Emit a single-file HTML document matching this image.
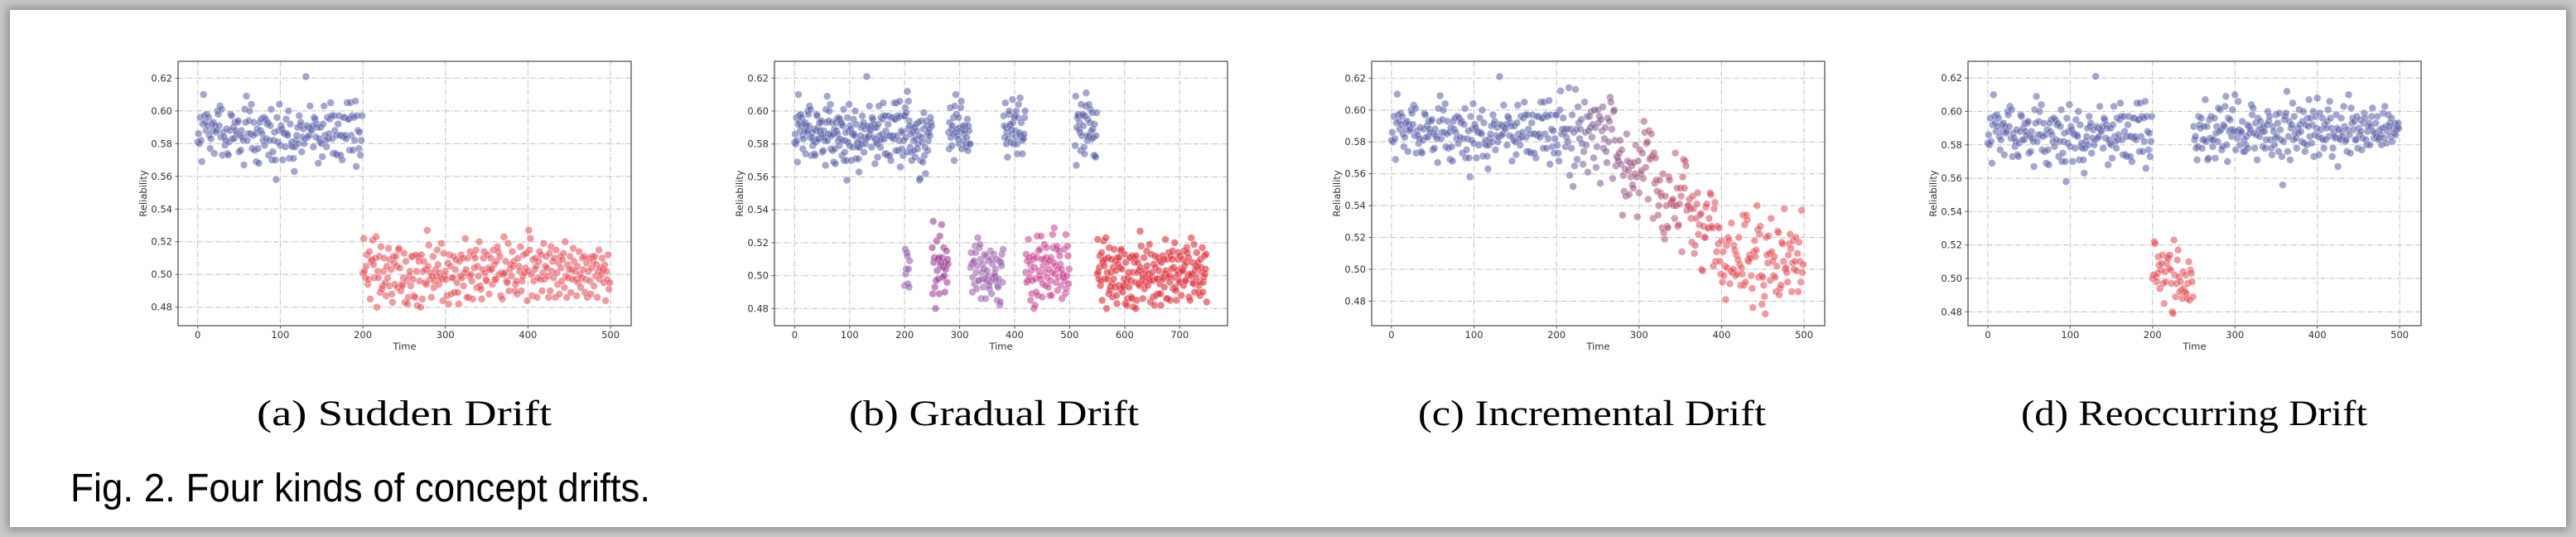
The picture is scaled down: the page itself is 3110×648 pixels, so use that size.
<!DOCTYPE html>
<html><head><meta charset="utf-8">
<style>
html,body{margin:0;padding:0;width:3110px;height:648px;overflow:hidden;background:#c9c9c9;}
#frame{position:absolute;left:12px;top:12px;width:3086px;height:624px;background:#fff;box-shadow:0 0 10px 3px #8a8a8a;}
svg{position:absolute;left:0;top:0;}
</style></head>
<body>
<div id="frame"></div>
<svg id="fig" width="3110" height="648" viewBox="0 0 3110 648">
  <g id="charts"></g>
  <text x="488" y="513" text-anchor="middle" font-family="Liberation Serif, serif" font-size="43" textLength="356" lengthAdjust="spacingAndGlyphs" fill="#000">(a) Sudden Drift</text>
  <text x="1200" y="513" text-anchor="middle" font-family="Liberation Serif, serif" font-size="43" textLength="350" lengthAdjust="spacingAndGlyphs" fill="#000">(b) Gradual Drift</text>
  <text x="1922" y="513" text-anchor="middle" font-family="Liberation Serif, serif" font-size="43" textLength="420" lengthAdjust="spacingAndGlyphs" fill="#000">(c) Incremental Drift</text>
  <text x="2649" y="513" text-anchor="middle" font-family="Liberation Serif, serif" font-size="43" textLength="418" lengthAdjust="spacingAndGlyphs" fill="#000">(d) Reoccurring Drift</text>
  <text x="85" y="605" font-family="Liberation Sans, sans-serif" font-size="48" textLength="700" lengthAdjust="spacingAndGlyphs" fill="#000">Fig. 2. Four kinds of concept drifts.</text>
</svg>
<script>
// ---- data ----
const blueBase = [.581,.586,.580,.596,.582,.569,.592,.610,.597,.593,.588,.598,.591,.596,.585,.577,.583,.592,.588,.593,.574,.591,.587,.588,.600,.598,.591,.603,.584,.601,.573,.587,.584,.579,.582,.589,.574,.573,.581,.588,.598,.597,.583,.590,.583,.593,.588,.586,.593,.594,.575,.585,.576,.588,.584,.582,.567,.601,.593,.609,.582,.586,.594,.600,.586,.604,.577,.585,.593,.576,.586,.569,.589,.577,.568,.593,.588,.595,.586,.582,.596,.579,.595,.583,.592,.593,.573,.582,.591,.601,.570,.575,.582,.587,.570,.558,.596,.581,.588,.604,.579,.591,.589,.570,.587,.586,.578,.595,.586,.585,.600,.571,.592,.579,.581,.578,.571,.563,.578,.582,.585,.590,.580,.597,.591,.593,.575,.584,.589,.580,.583,.621,.591,.584,.590,.585,.603,.589,.588,.591,.578,.596,.595,.584,.592,.590,.568,.583,.581,.590,.580,.572,.592,.603,.585,.582,.578,.596,.583,.586,.595,.605,.597,.583,.574,.597,.588,.574,.585,.573,.592,.597,.585,.573,.585,.570,.596,.584,.596,.585,.583,.605,.595,.595,.576,.605,.585,.597,.576,.596,.582,.606,.566,.597,.588,.577,.587,.573,.582,.597];
const redA = [.501,.522,.502,.498,.505,.512,.494,.497,.514,.485,.508,.509,.521,.506,.498,.510,.523,.480,.502,.498,.511,.489,.517,.491,.493,.502,.510,.495,.487,.505,.498,.516,.493,.509,.503,.488,.483,.511,.507,.494,.511,.505,.492,.515,.516,.504,.490,.494,.493,.498,.513,.483,.508,.496,.482,.486,.499,.502,.493,.511,.511,.497,.487,.486,.512,.502,.481,.511,.508,.496,.480,.512,.485,.502,.508,.495,.503,.494,.527,.505,.518,.497,.501,.486,.499,.511,.492,.496,.503,.499,.515,.506,.494,.501,.498,.519,.497,.484,.513,.499,.502,.497,.487,.507,.482,.512,.505,.488,.498,.498,.511,.489,.503,.509,.495,.489,.482,.508,.499,.512,.498,.510,.493,.501,.522,.503,.486,.510,.486,.499,.514,.500,.496,.485,.512,.504,.510,.515,.492,.505,.499,.520,.493,.491,.485,.503,.510,.514,.501,.497,.496,.512,.504,.488,.503,.510,.503,.494,.515,.506,.497,.497,.508,.517,.514,.500,.511,.487,.501,.485,.500,.523,.501,.508,.496,.495,.519,.490,.503,.506,.499,.514,.505,.508,.490,.494,.496,.488,.510,.505,.502,.517,.490,.496,.499,.512,.501,.504,.513,.484,.502,.527,.515,.522,.500,.487,.509,.496,.503,.510,.505,.486,.498,.508,.514,.497,.512,.490,.501,.519,.497,.505,.511,.504,.499,.486,.513,.490,.517,.502,.508,.498,.510,.486,.515,.501,.494,.507,.488,.511,.504,.496,.509,.513,.492,.520,.499,.486,.506,.498,.503,.511,.489,.503,.497,.516,.508,.502,.497,.487,.505,.495,.514,.500,.492,.498,.510,.503,.511,.489,.497,.507,.486,.502,.510,.496,.488,.504,.511,.508,.493,.511,.499,.506,.486,.502,.515,.497,.504,.500,.510,.503,.495,.506,.484,.502,.497,.512,.491,.495];
const incC = [.597,.578,.573,.568,.600,.612,.585,.588,.595,.586,.588,.577,.583,.588,.580,.614,.559,.588,.576,.597,.552,.586,.565,.613,.588,.569,.602,.592,.582,.588,.594,.579,.566,.574,.605,.586,.578,.596,.561,.587,.596,.589,.599,.583,.591,.570,.600,.589,.564,.577,.600,.592,.596,.554,.594,.587,.602,.576,.582,.589,.574,.567,.595,.580,.593,.608,.605,.588,.557,.599,.600,.581,.565,.571,.570,.568,.573,.581,.566,.575,.534,.559,.549,.563,.546,.585,.568,.562,.547,.567,.558,.565,.553,.551,.567,.560,.578,.558,.533,.568,.548,.575,.560,.562,.573,.557,.593,.586,.564,.579,.580,.544,.587,.569,.570,.585,.571,.532,.573,.554,.570,.556,.549,.534,.540,.556,.548,.546,.526,.560,.523,.519,.546,.540,.527,.526,.558,.556,.541,.542,.543,.544,.540,.532,.573,.540,.551,.527,.528,.541,.551,.546,.511,.558,.569,.551,.568,.565,.537,.540,.540,.544,.538,.532,.517,.546,.538,.510,.515,.532,.541,.548,.522,.528,.534,.535,.500,.499,.527,.520,.520,.539,.541,.526,.526,.532,.548,.547,.527,.526,.502,.538,.542,.505,.511,.527,.516,.526,.505,.497,.518,.492,.511,.496,.502,.481,.515,.501,.520,.518,.491,.499,.529,.498,.500,.515,.512,.496,.509,.497,.506,.520,.503,.490,.501,.497,.534,.490,.528,.492,.534,.531,.506,.505,.509,.507,.496,.488,.476,.511,.518,.508,.512,.540,.525,.495,.522,.527,.496,.478,.495,.490,.483,.472,.520,.509,.504,.521,.510,.493,.532,.511,.505,.496,.508,.495,.486,.502,.524,.523,.484,.488,.490,.517,.516,.505,.538,.500,.501,.498,.492,.509,.516,.522,.513,.486,.504,.518,.500,.505,.520,.499,.510,.486,.517,.505,.492,.537,.498,.503];
const redD = [.500,.502,.522,.521,.501,.498,.503,.513,.508,.494,.505,.509,.514,.497,.485,.504,.498,.509,.513,.512,.506,.514,.505,.497,.480,.479,.523,.502,.489,.497,.511,.517,.501,.492,.498,.493,.488,.504,.494,.492,.502,.491,.488,.497,.510,.487,.505,.503,.498,.489];
const blueD = [.591,.583,.585,.578,.571,.579,.597,.592,.590,.596,.578,.583,.591,.583,.607,.582,.591,.571,.572,.595,.584,.597,.583,.579,.583,.596,.572,.587,.591,.582,.602,.588,.601,.589,.577,.579,.592,.591,.603,.609,.580,.570,.596,.588,.595,.589,.585,.601,.589,.588,.610,.577,.588,.584,.606,.589,.580,.587,.588,.594,.576,.583,.576,.580,.585,.592,.578,.591,.587,.589,.604,.598,.602,.587,.578,.593,.586,.571,.596,.589,.585,.594,.590,.588,.579,.591,.588,.578,.583,.592,.600,.594,.597,.583,.578,.574,.591,.588,.580,.584,.598,.585,.593,.576,.599,.589,.583,.573,.556,.582,.595,.597,.599,.612,.576,.585,.594,.571,.590,.592,.605,.583,.597,.587,.584,.578,.590,.587,.601,.592,.588,.582,.594,.600,.581,.576,.592,.580,.596,.591,.607,.585,.596,.581,.592,.600,.573,.586,.597,.590,.608,.585,.574,.599,.589,.584,.596,.583,.578,.592,.583,.590,.594,.601,.585,.606,.596,.590,.573,.578,.587,.585,.584,.598,.590,.567,.589,.584,.583,.596,.588,.585,.603,.591,.582,.583,.576,.589,.610,.586,.575,.602,.593,.596,.589,.594,.583,.583,.597,.578,.590,.586,.595,.588,.577,.584,.593,.599,.596,.583,.580,.588,.591,.593,.580,.591,.597,.602,.588,.584,.587,.593,.585,.597,.583,.584,.589,.586,.580,.590,.599,.584,.603,.591,.581,.588,.598,.591,.593,.585,.596,.582,.590,.587,.593,.586,.589,.591,.593,.590];
const purpleB1 = [.494,.516,.501,.504,.514,.512,.495,.504,.493,.509];
const blueB1 = [.597,.602,.584,.599,.575,.612,.589,.606,.594,.591,.578,.586,.575,.570,.590,.587,.582,.576,.590,.572,.583,.592,.588,.577,.580,.593,.585,.558,.559,.570,.594,.584,.581,.569,.589,.599,.573,.578,.562,.594,.591,.586,.576,.582,.587,.589,.585,.596,.593,.591];
const magB = [.517,.489,.533,.508,.511,.493,.480,.497,.521,.503,.510,.498,.511,.489,.524,.506,.508,.531,.511,.499,.505,.517,.500,.490,.508,.504,.515,.496,.510,.507];
const blueB2 = [.587,.577,.593,.602,.584,.589,.579,.591,.586,.596,.570,.603,.587,.610,.598,.589,.585,.583,.596,.580,.590,.588,.602,.606,.577,.589,.591,.582,.586,.588,.591,.578,.580,.584,.595,.576,.591,.588,.580,.580];
const lavB = [.505,.514,.507,.490,.499,.508,.509,.495,.518,.514,.502,.492,.506,.523,.497,.497,.517,.519,.510,.486,.502,.498,.507,.493,.504,.513,.498,.486,.512,.497,.503,.500,.509,.494,.492,.496,.515,.510,.489,.498,.507,.499,.513,.501,.500,.504,.497,.510,.485,.494,.493,.498,.509,.482,.484,.508,.506,.513,.496,.516];
const blueB3 = [.597,.591,.584,.605,.590,.580,.587,.572,.583,.598,.600,.591,.592,.581,.589,.586,.607,.593,.580,.596,.597,.588,.584,.600,.580,.574,.596,.604,.587,.586,.608,.585,.593,.582,.574,.584,.583,.586,.596,.600];
const pinkB = [.502,.513,.496,.509,.497,.522,.511,.499,.507,.485,.503,.489,.497,.512,.510,.480,.505,.482,.498,.490,.511,.524,.488,.515,.503,.500,.516,.498,.524,.510,.487,.495,.506,.510,.519,.502,.494,.511,.517,.499,.508,.493,.504,.509,.488,.497,.511,.488,.502,.525,.517,.508,.529,.501,.506,.496,.516,.518,.491,.504,.499,.515,.512,.507,.494,.504,.486,.500,.501,.499,.516,.497,.489,.525,.492,.500,.518,.512,.495,.504];
const blueB4 = [.579,.609,.567,.590,.596,.598,.597,.589,.593,.587,.576,.604,.585,.597,.598,.591,.578,.574,.597,.603,.611,.585,.582,.595,.584,.604,.585,.593,.601,.588,.583,.599,.589,.584,.573,.592,.573,.572,.585,.599];
const redB = redA.slice(0, 200);
const xTicksShort = [0,100,200,300,400,500];
const xTicksLong = [0,100,200,300,400,500,600,700];
const yTicks = [0.48,0.50,0.52,0.54,0.56,0.58,0.60,0.62];
const yTickLabels = ["0.48","0.50","0.52","0.54","0.56","0.58","0.60","0.62"];

// ---- drawing ----
const NS = "http://www.w3.org/2000/svg";
const BLUE = [88,95,165], RED = [228,72,82];
function rgba(c,a){return "rgba("+c[0]+","+c[1]+","+c[2]+","+a+")";}
function mix(t){return [0,1,2].map(i=>Math.round(BLUE[i]+(RED[i]-BLUE[i])*t));}
function mk(tag, attrs, parent){const e=document.createElementNS(NS,tag);for(const k in attrs)e.setAttribute(k,attrs[k]);parent.appendChild(e);return e;}

function drawChart(cfg){
  const root=document.getElementById("charts");
  const g=mk("g",{},root);
  
  
  const L=cfg.left,R=cfg.left+547,T=74,B=393;
  const xs=v=>L+(v-cfg.xmin)/(cfg.xmax-cfg.xmin)*(R-L);
  const ys=v=>B-(v-cfg.ymin)/(cfg.ymax-cfg.ymin)*(B-T);
  const grid=mk("g",{stroke:"#c4c4c4","stroke-width":"1.1","stroke-dasharray":"6 2 1.5 2"},g);
  
  
  cfg.xticks.forEach(t=>{const l=mk("line",{x1:xs(t),x2:xs(t),y1:T,y2:B},grid);
    
    });
  yTicks.forEach(t=>{const l=mk("line",{x1:L,x2:R,y1:ys(t),y2:ys(t)},grid);
    
    });
  const pts=mk("g",{},g);
  
  
  cfg.series.forEach(s=>{
    s.vals.forEach((v,i)=>{
      const xv=s.x0+i*(s.step||1);
      const col=s.colorFn?s.colorFn(xv):s.color;
      const c=mk("circle",{cx:xs(xv).toFixed(1),cy:ys(v).toFixed(1),r:4.4,fill:rgba(col,s.alpha||0.55),stroke:"rgba(255,255,255,0.5)","stroke-width":"0.6"},pts);
      
      
    });
  });
  const frame=mk("rect",{x:L,y:T,width:R-L,height:B-T,fill:"none",stroke:"#555","stroke-width":"1.3"},g);
  
  
  const lab=mk("g",{"font-family":"DejaVu Sans, sans-serif","font-size":"11.5",fill:"#333"},g);
  
  
  cfg.xticks.forEach(t=>{
    const tk=mk("line",{x1:xs(t),x2:xs(t),y1:B,y2:B+3.5,stroke:"#555","stroke-width":"1"},g);
    
    
    const tx=mk("text",{x:xs(t),y:408,"text-anchor":"middle"},lab);tx.textContent=String(t);
    
    
  });
  yTicks.forEach((t,i)=>{
    const tk=mk("line",{x1:L-3.5,x2:L,y1:ys(t),y2:ys(t),stroke:"#555","stroke-width":"1"},g);
    
    
    const tx=mk("text",{x:L-7,y:ys(t)+4,"text-anchor":"end"},lab);tx.textContent=yTickLabels[i];
    
    
  });
  const xt=mk("text",{x:(L+R)/2,y:422,"text-anchor":"middle"},lab);xt.textContent="Time";
  
  
  const yx=L-38, yy=(T+B)/2;
  const yt=mk("text",{x:yx,y:yy,"text-anchor":"middle",transform:"rotate(-90 "+yx+" "+yy+")"},lab);yt.textContent="Reliability";
  
  
}

const incColor = x => mix(Math.max(0,Math.min(1,(x-200)/200)));

drawChart({name:"chart-sudden-drift",left:215,xmin:-23.8,xmax:525,ymin:0.4687,ymax:0.6303,xticks:xTicksShort,
  series:[{name:"before-drift",x0:0,vals:blueBase,color:BLUE},{name:"after-drift",x0:200,vals:redA,color:RED}]});
drawChart({name:"chart-gradual-drift",left:935,xmin:-36.7,xmax:787,ymin:0.4696,ymax:0.6302,xticks:xTicksLong,
  series:[{name:"concept-a",x0:0,vals:blueBase,color:BLUE},
    {name:"concept-a",x0:200,vals:blueB1,color:BLUE},
    {name:"concept-a",x0:280,vals:blueB2,color:BLUE},
    {name:"concept-a",x0:380,vals:blueB3,color:BLUE},
    {name:"concept-a",x0:510,vals:blueB4,color:BLUE},
    {name:"transition-1",x0:200,vals:purpleB1,color:[140,90,170]},
    {name:"transition-2",x0:250,vals:magB,color:[150,50,140]},
    {name:"transition-3",x0:320,vals:lavB,color:[150,90,165]},
    {name:"transition-4",x0:420,vals:pinkB,color:[200,60,140]},
    {name:"concept-b",x0:550,vals:redB,color:[222,52,62],alpha:0.62}]});
drawChart({name:"chart-incremental-drift",left:1656,xmin:-24,xmax:525,ymin:0.4646,ymax:0.6306,xticks:xTicksShort,
  series:[{name:"stable",x0:0,vals:blueBase,color:BLUE},{name:"incremental",x0:200,vals:incC,colorFn:incColor}]});
drawChart({name:"chart-reoccurring-drift",left:2376,xmin:-24,xmax:526,ymin:0.4717,ymax:0.6300,xticks:xTicksShort,
  series:[{name:"concept-a",x0:0,vals:blueBase,color:BLUE},{name:"concept-b",x0:200,vals:redD,color:RED},{name:"concept-a-return",x0:250,vals:blueD,color:BLUE}]});
</script>
</body></html>
